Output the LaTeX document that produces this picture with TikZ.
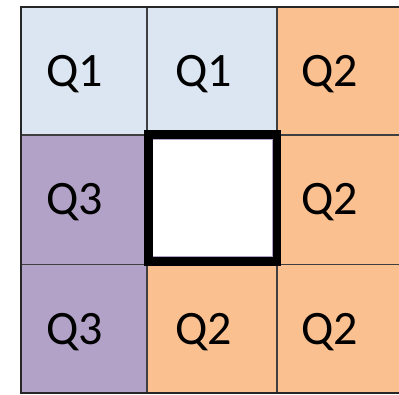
\documentclass[tikz,border=0pt]{standalone}
\usepackage{fontspec}
\setmainfont{Carlito}
\definecolor{qone}{HTML}{DCE6F2}
\definecolor{qtwo}{HTML}{FAC090}
\definecolor{qthree}{HTML}{B3A2C7}
\definecolor{gridline}{HTML}{3F3F3F}
\begin{document}
\begin{tikzpicture}[x=1pt,y=-1pt,
  lbl/.style={font=\fontsize{48}{52}\selectfont, text=black, inner sep=0pt},
  cellline/.style={draw=gridline, line width=1.2pt}]
\useasboundingbox (0,0) rectangle (399,394);
\fill[white] (0,0) rectangle (399,394);
% cells
\fill[qone] (20.7,6.7) rectangle (147,135);
\fill[qone] (147,6.7) rectangle (277,135);
\fill[qtwo] (277,6.7) rectangle (406,135);
\fill[qthree] (20.7,135) rectangle (147,264.5);
\fill[white] (147,135) rectangle (277,264.5);
\fill[qtwo] (277,135) rectangle (406,264.5);
\fill[qthree] (20.7,264.5) rectangle (147,393);
\fill[qtwo] (147,264.5) rectangle (277,393);
\fill[qtwo] (277,264.5) rectangle (406,393);
% grid lines
\draw[cellline] (147,6.7) -- (147,393);
\draw[cellline] (277,6.7) -- (277,393);
\draw[cellline] (20.7,135) -- (406,135);
\draw[cellline] (20.7,264.5) -- (406,264.5);
\draw[draw=black!85, line width=1.6pt] (20.7,6.7) rectangle (406,393);
% labels
\node[lbl] (a) at (74.5,74) {Q1};
\node[lbl] (b) at (204,74) {Q1};
\node[lbl] (c) at (330,74) {Q2};
\node[lbl] (d) at (74.5,202) {Q3};
\node[lbl] (e) at (330,202) {Q2};
\node[lbl] (f) at (74.5,332) {Q3};
\node[lbl] (g) at (204,332) {Q2};
\node[lbl] (h) at (330,332) {Q2};
% highlighted empty cell
\draw[qthree, line width=1.2pt] (152.8,139.8) rectangle (272.3,256.8);
\draw[black, line width=8.5pt] (148.3,134.7) rectangle (276.8,261.5);
\end{tikzpicture}
\end{document}
